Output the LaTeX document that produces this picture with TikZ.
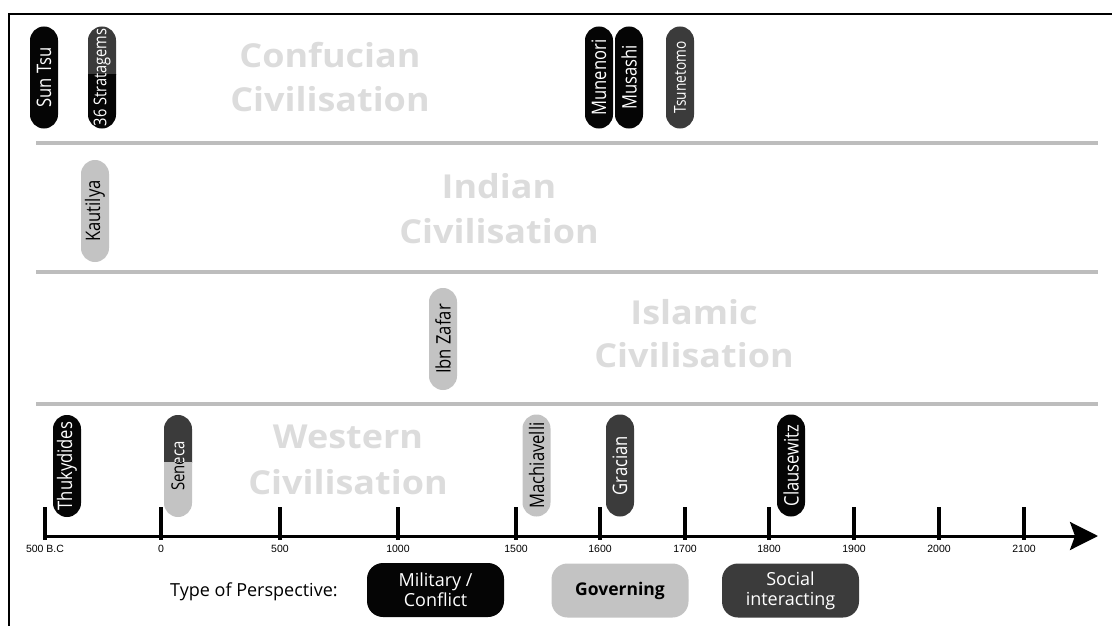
\documentclass[tikz,border=0pt]{standalone}
\usepackage{fontspec}
\setmainfont{Open Sans}
\newfontfamily\axisfont{Liberation Sans}
\newfontfamily\pillfont{Open Sans}[FakeStretch=0.83]
\newfontfamily\civfont{Open Sans}[FakeStretch=1.09]
\usetikzlibrary{arrows.meta}
\definecolor{pillblack}{HTML}{050505}
\definecolor{pilldark}{HTML}{3B3B3B}
\definecolor{pilllight}{HTML}{C3C3C3}
\definecolor{civtext}{HTML}{DCDCDC}
\definecolor{sepgray}{HTML}{BDBDBD}
\begin{document}
\begin{tikzpicture}[x=1pt,y=-1pt,
  pill/.style={rounded corners=13.9pt, minimum width=28pt, minimum height=102pt,
    inner sep=0pt, fill=pillblack, text=white, font=\pillfont\fontsize{20}{20}\selectfont},
  darkpill/.style={pill, fill=pilldark, text=white},
  lightpill/.style={pill, fill=pilllight, text=black},
  civ/.style={text=civtext, anchor=base, inner sep=0pt, font=\civfont\bfseries\fontsize{33}{33}\selectfont},
  sepline/.style={sepgray, line width=4pt},
  tick/.style={line width=4pt},
  ticklabel/.style={font=\axisfont\fontsize{10.5}{10.5}\selectfont, inner sep=0pt},
  legend/.style={rounded corners=16pt, minimum width=137pt, minimum height=54pt,
    inner sep=0pt, align=center, font=\fontsize{18}{20}\selectfont},
]
\useasboundingbox (0,0) rectangle (1112,626);

% frame
\draw[line width=2pt] (9,626) -- (9,14) -- (1112,14);

% civilisation bands
\draw[sepline] (36,143) -- (1098,143);
\draw[sepline] (36,272) -- (1098,272);
\draw[sepline] (36,404) -- (1098,404);

\node[civ] (confucian)    at (330,68)  {Confucian};
\node[civ] (confucianciv) at (330,112) {Civilisation};
\node[civ] (indian)       at (499,198) {Indian};
\node[civ] (indianciv)    at (499,243) {Civilisation};
\node[civ] (islamic)      at (694,324) {Islamic};
\node[civ] (islamicciv)   at (694,367) {Civilisation};
\node[civ] (western)      at (348,448) {Western};
\node[civ] (westernciv)   at (348,494) {Civilisation};

% Confucian thinkers
\node[pill] (suntsu) at (44,77.5) {\rotatebox{90}{Sun Tsu}};
\begin{scope}
  \clip (80,20) rectangle (124,75);
  \node[darkpill, font=\pillfont\fontsize{17.6}{17.6}\selectfont] at (102,77.5) {\rotatebox{90}{36 Stratagems}};
\end{scope}
\begin{scope}
  \clip (80,75) rectangle (124,135);
  \node[pill, font=\pillfont\fontsize{17.6}{17.6}\selectfont] (stratagems) at (102,77.5) {\rotatebox{90}{36 Stratagems}};
\end{scope}
\node[pill] (munenori) at (599,77.5) {\rotatebox{90}{Munenori}};
\node[pill] (musashi) at (629,77.5) {\rotatebox{90}{Musashi}};
\node[darkpill, font=\pillfont\fontsize{16.5}{16.5}\selectfont] (tsunetomo) at (680,77.5) {\rotatebox{90}{Tsunetomo}};

% Indian and Islamic thinkers
\node[lightpill] (kautilya) at (95,211) {\rotatebox{90}{Kautilya}};
\node[lightpill] (ibnzafar) at (443,339) {\rotatebox{90}{Ibn Zafar}};

% Western thinkers
\node[pill] (thukydides) at (67,466) {\rotatebox{90}{Thukydides}};
\begin{scope}
  \clip (156,408) rectangle (200,462);
  \node[darkpill, font=\pillfont\fontsize{18}{18}\selectfont] at (178,466) {\rotatebox{90}{Seneca}};
\end{scope}
\begin{scope}
  \clip (156,462) rectangle (200,525);
  \node[lightpill, font=\pillfont\fontsize{18}{18}\selectfont] (seneca) at (178,466) {\rotatebox{90}{Seneca}};
\end{scope}
\node[lightpill] (machiavelli) at (536.5,465.5) {\rotatebox{90}{Machiavelli}};
\node[darkpill] (gracian) at (620,465.5) {\rotatebox{90}{Gracian}};
\node[pill] (clausewitz) at (791,465.5) {\rotatebox{90}{Clausewitz}};

% time axis
\coordinate (axstart) at (45,536);
\coordinate (axend) at (1098,536);
\draw[line width=3pt, -{Stealth[length=28pt, width=28pt, inset=5pt]}] (axstart) -- (axend);
\foreach \x/\lab in {45/500 B.C, 161/0, 280/500, 398/1000, 516/1500, 600/1600,
                     685/1700, 769/1800, 854/1900, 939/2000, 1024/2100} {
  \draw[tick] (\x,507) -- (\x,540);
  \node[ticklabel] at (\x,548.5) {\lab};
}

% legend
\node[anchor=west, inner sep=0pt, font=\fontsize{18}{18}\selectfont] (legendtitle) at (170,592) {Type of Perspective:};
\node[legend, fill=pillblack, text=white] (military) at (435.5,590) {Military /\\Conflict};
\node[legend, fill=pilllight, text=black, font=\fontsize{17.5}{20}\bfseries\selectfont] (governing) at (620,590.5) {Governing};
\node[legend, fill=pilldark, text=white] (social) at (790.5,590.5) {Social\\interacting};
\end{tikzpicture}
\end{document}
